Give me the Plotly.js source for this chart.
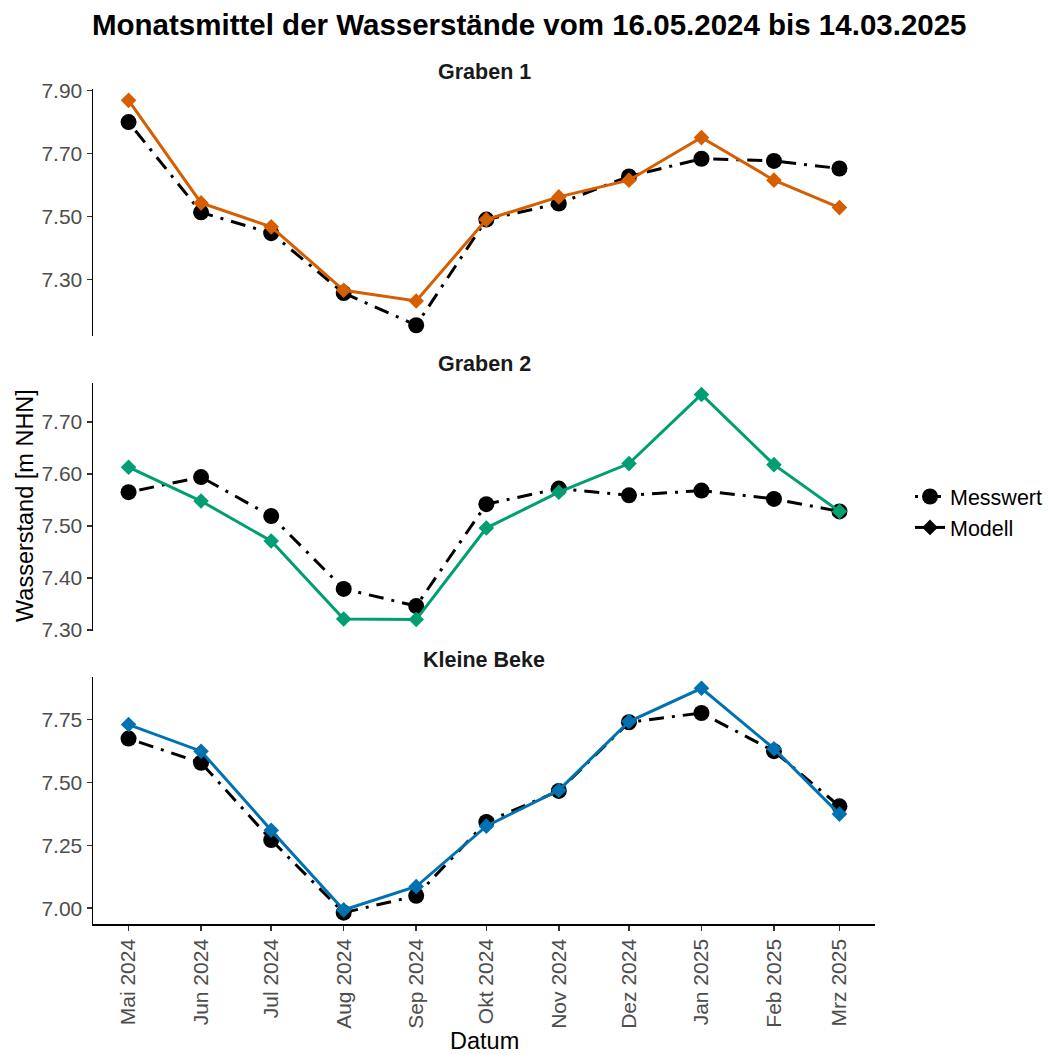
<!DOCTYPE html>
<html>
<head>
<meta charset="utf-8">
<script src="https://cdn.plot.ly/plotly-3.0.1.min.js"></script>
<style>
  html, body { margin: 0; padding: 0; background: #ffffff; }
  #chart { width: 1051px; height: 1054px; }
</style>
</head>
<body>
<div id="chart"></div>
<script>
// ---- data ----
const months = ['2024-05-01','2024-06-01','2024-07-01','2024-08-01','2024-09-01','2024-10-01',
                '2024-11-01','2024-12-01','2025-01-01','2025-02-01','2025-03-01'];
const monthLabels = ['Mai 2024','Jun 2024','Jul 2024','Aug 2024','Sep 2024','Okt 2024',
                     'Nov 2024','Dez 2024','Jan 2025','Feb 2025','Mrz 2025'];
const panelNames = ['Graben 1', 'Graben 2', 'Kleine Beke'];
const g1Messwert = [7.799, 7.513, 7.447, 7.257, 7.155, 7.490, 7.541, 7.627, 7.683, 7.676, 7.652];
const g1Modell   = [7.868, 7.543, 7.467, 7.266, 7.232, 7.490, 7.562, 7.615, 7.750, 7.615, 7.528];
const g2Messwert = [7.565, 7.594, 7.519, 7.379, 7.346, 7.542, 7.572, 7.559, 7.568, 7.552, 7.528];
const g2Modell   = [7.613, 7.548, 7.471, 7.321, 7.320, 7.496, 7.565, 7.620, 7.753, 7.618, 7.528];
const kbMesswert = [7.674, 7.578, 7.271, 6.982, 7.049, 7.343, 7.466, 7.739, 7.776, 7.624, 7.405];
const kbModell   = [7.730, 7.624, 7.310, 6.993, 7.086, 7.326, 7.469, 7.742, 7.874, 7.634, 7.374];

const messwertSeries = [g1Messwert, g2Messwert, kbMesswert];
const modellSeries = [g1Modell, g2Modell, kbModell];
const modellColors = ['#D55E00', '#009E73', '#0072B2'];
const yAxisIds = ['y', 'y2', 'y3'];

// ---- figure geometry (pixels) ----
const W = 1051, H = 1054;
const FONT = 'Liberation Sans, Arial, Helvetica, sans-serif';
const dashDot = '3px,8px,15px,8px';

const traces = [];
// Messwert (drawn first)
for (let i = 0; i < 3; i++) {
  traces.push({
    type: 'scatter', mode: 'lines+markers',
    x: months, y: messwertSeries[i],
    xaxis: 'x', yaxis: yAxisIds[i],
    name: 'Messwert', legendgroup: 'mess', showlegend: i === 0,
    line: { color: '#000000', width: 3, dash: dashDot },
    marker: { symbol: 'circle', size: 16, color: '#000000' },
    cliponaxis: false
  });
}
// Modell
for (let i = 0; i < 3; i++) {
  traces.push({
    type: 'scatter', mode: 'lines+markers',
    x: months, y: modellSeries[i],
    xaxis: 'x', yaxis: yAxisIds[i],
    name: 'Modell', legendgroup: 'mod', showlegend: false,
    line: { color: modellColors[i], width: 3 },
    marker: { symbol: 'diamond', size: 12, color: modellColors[i] },
    cliponaxis: false
  });
}
// legend-only entry for Modell (black key like the reference)
traces.push({
  type: 'scatter', mode: 'lines+markers',
  x: [null], y: [null], xaxis: 'x', yaxis: 'y',
  name: 'Modell', legendgroup: 'mod', showlegend: true,
  line: { color: '#000000', width: 3 },
  marker: { symbol: 'diamond', size: 12, color: '#000000' }
});

function dom(topPx, botPx) { return [1 - botPx / H, 1 - topPx / H]; }

const yCommon = {
  showline: true, linecolor: '#000000', linewidth: 1.5,
  ticks: 'outside', ticklen: 5, tickcolor: '#333333', tickwidth: 1.5,
  showgrid: false, zeroline: false, tickformat: '.2f',
  tickfont: { family: FONT, size: 21, color: '#4D4D4D' },
  anchor: 'x', fixedrange: true
};

const layout = {
  width: W, height: H,
  margin: { l: 0, r: 0, t: 0, b: 0 },
  paper_bgcolor: '#ffffff', plot_bgcolor: '#ffffff',
  font: { family: FONT },
  showlegend: true,
  legend: {
    x: 910 / W, y: 1 - 512 / H, xanchor: 'left', yanchor: 'middle',
    font: { family: FONT, size: 21.5, color: '#000000' },
    bgcolor: 'rgba(0,0,0,0)', tracegroupgap: 0
  },
  xaxis: {
    type: 'date', domain: [93 / W, 875 / W], anchor: 'y3',
    range: ['2024-04-15 19:00', '2025-03-16 05:00'],
    tickvals: months, ticktext: monthLabels, tickangle: -90,
    showline: true, linecolor: '#000000', linewidth: 1.5,
    ticks: 'outside', ticklen: 5, tickcolor: '#333333', tickwidth: 1.5,
    showgrid: false, zeroline: false,
    tickfont: { family: FONT, size: 21, color: '#4D4D4D' },
    fixedrange: true
  },
  yaxis: Object.assign({}, yCommon, {
    domain: dom(89, 336), range: [7.121, 7.904], tick0: 7.3, dtick: 0.2
  }),
  yaxis2: Object.assign({}, yCommon, {
    domain: dom(383, 631), range: [7.298, 7.775], tick0: 7.3, dtick: 0.1
  }),
  yaxis3: Object.assign({}, yCommon, {
    domain: dom(677, 924), range: [6.937, 7.919], tick0: 7.0, dtick: 0.25
  }),
  annotations: [
    { text: '<b>Monatsmittel der Wasserstände vom 16.05.2024 bis 14.03.2025</b>',
      xref: 'paper', yref: 'paper', x: 529 / W, y: 1 - 25 / H,
      xanchor: 'center', yanchor: 'middle', showarrow: false,
      font: { family: FONT, size: 29.5, color: '#000000' } },
    { text: '<b>' + panelNames[0] + '</b>', xref: 'paper', yref: 'paper',
      x: 484 / W, y: 1 - 72 / H, xanchor: 'center', yanchor: 'middle', showarrow: false,
      font: { family: FONT, size: 21.5, color: '#1A1A1A' } },
    { text: '<b>' + panelNames[1] + '</b>', xref: 'paper', yref: 'paper',
      x: 484 / W, y: 1 - 364 / H, xanchor: 'center', yanchor: 'middle', showarrow: false,
      font: { family: FONT, size: 21.5, color: '#1A1A1A' } },
    { text: '<b>' + panelNames[2] + '</b>', xref: 'paper', yref: 'paper',
      x: 484 / W, y: 1 - 660 / H, xanchor: 'center', yanchor: 'middle', showarrow: false,
      font: { family: FONT, size: 21.5, color: '#1A1A1A' } },
    { text: 'Wasserstand [m NHN]', xref: 'paper', yref: 'paper',
      x: 25 / W, y: 1 - 506 / H, xanchor: 'center', yanchor: 'middle', showarrow: false,
      textangle: -90, font: { family: FONT, size: 23.5, color: '#000000' } },
    { text: 'Datum', xref: 'paper', yref: 'paper',
      x: 484 / W, y: 1 - 1041 / H, xanchor: 'center', yanchor: 'middle', showarrow: false,
      font: { family: FONT, size: 23.5, color: '#000000' } }
  ]
};

Plotly.newPlot('chart', traces, layout, { staticPlot: true, displayModeBar: false });
</script>
</body>
</html>
